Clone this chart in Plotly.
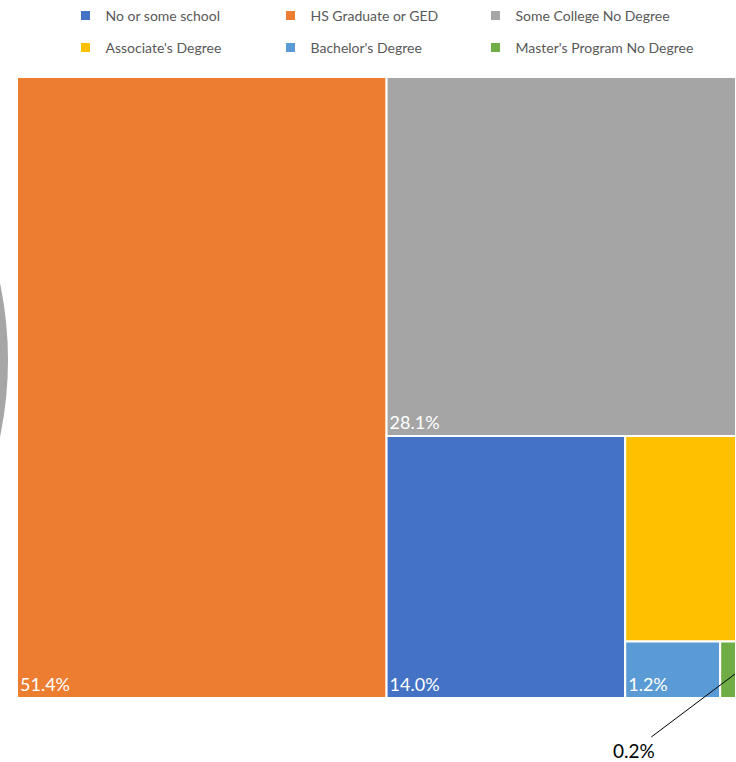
import plotly.graph_objects as go

categories = ["No or some school", "HS Graduate or GED", "Some College No Degree",
              "Associate's Degree", "Bachelor's Degree", "Master's Program No Degree"]
values = [14.0, 51.4, 28.1, 5.1, 1.2, 0.2]
labels_pct = ["14.0%", "51.4%", "28.1%", "", "1.2%", ""]
colors = ["#4472C4", "#ED7D31", "#A5A5A5", "#FFC000", "#5B9BD5", "#70AD47"]
callout_label = "0.2%"

W, H = 736, 762
# target plot rectangle in page pixels: x 17..736, y 77..698
ML, MR = 17, 0
MT, MB = 77, H - 698
PW, PH = W - ML - MR, H - MT - MB

def px_x(sx):
    return (sx - ML) / PW

def px_y(sy):
    return (H - MB - sy) / PH

fig = go.Figure()

fig.add_trace(go.Treemap(
    labels=categories,
    parents=[""] * len(categories),
    values=values,
    text=labels_pct,
    texttemplate="%{text}",
    textposition="bottom left",
    textfont=dict(family="Lato, Open Sans, sans-serif", size=18, color="white"),
    marker=dict(colors=colors, line=dict(color="white", width=2),
                pad=dict(t=0, l=0, r=0, b=0)),
    pathbar=dict(visible=False),
    sort=True,
    tiling=dict(packing="squarify", squarifyratio=1, pad=0),
    hoverinfo="label+value",
    domain=dict(x=[0, 1], y=[0, 1]),
))

# legend: one legend per entry, laid out as 3 columns x 2 rows (page px)
legend_cols_px = [65.5, 270.5, 475.5]
legend_rows_px = [16, 48]
legend_layout = {}
for i, (name, col) in enumerate(zip(categories, colors)):
    key = "legend" if i == 0 else f"legend{i + 1}"
    fig.add_trace(go.Scatter(
        x=[None], y=[None], mode="markers", name=name,
        marker=dict(symbol="square", size=9, color=col),
        legend=key, showlegend=True, hoverinfo="skip",
    ))
    legend_layout[key] = dict(
        orientation="h", xref="container", yref="container",
        xanchor="left", yanchor="middle",
        x=legend_cols_px[i % 3] / W,
        y=1 - legend_rows_px[i // 3] / H,
        font=dict(family="Lato, Open Sans, sans-serif", size=14, color="#595959"),
        bgcolor="rgba(0,0,0,0)", itemclick=False, itemdoubleclick=False,
    )

fig.update_layout(
    width=W, height=H,
    margin=dict(l=ML, r=MR, t=MT, b=MB, autoexpand=False),
    paper_bgcolor="white", plot_bgcolor="white",
    xaxis=dict(visible=False), yaxis=dict(visible=False),
    shapes=[dict(
        type="circle", xref="paper", yref="paper",
        xsizemode="pixel", ysizemode="pixel",
        xanchor=px_x(0), yanchor=px_y(360),
        x0=-742, x1=8, y0=-375, y1=375,
        fillcolor="#A6A6A6", line=dict(width=0), layer="above",
    )],
    annotations=[dict(
        text=callout_label, xref="paper", yref="paper",
        x=px_x(736), y=px_y(674), ax=-102, ay=76,
        showarrow=True, arrowhead=0, arrowwidth=1, arrowcolor="black",
        font=dict(family="Lato, Open Sans, sans-serif", size=19, color="black"),
    )],
    **legend_layout,
)

fig.write_html(
    "out.html",
    config={"displayModeBar": False},
    post_script="document.body.style.margin='0';document.body.style.overflow='hidden';",
)
